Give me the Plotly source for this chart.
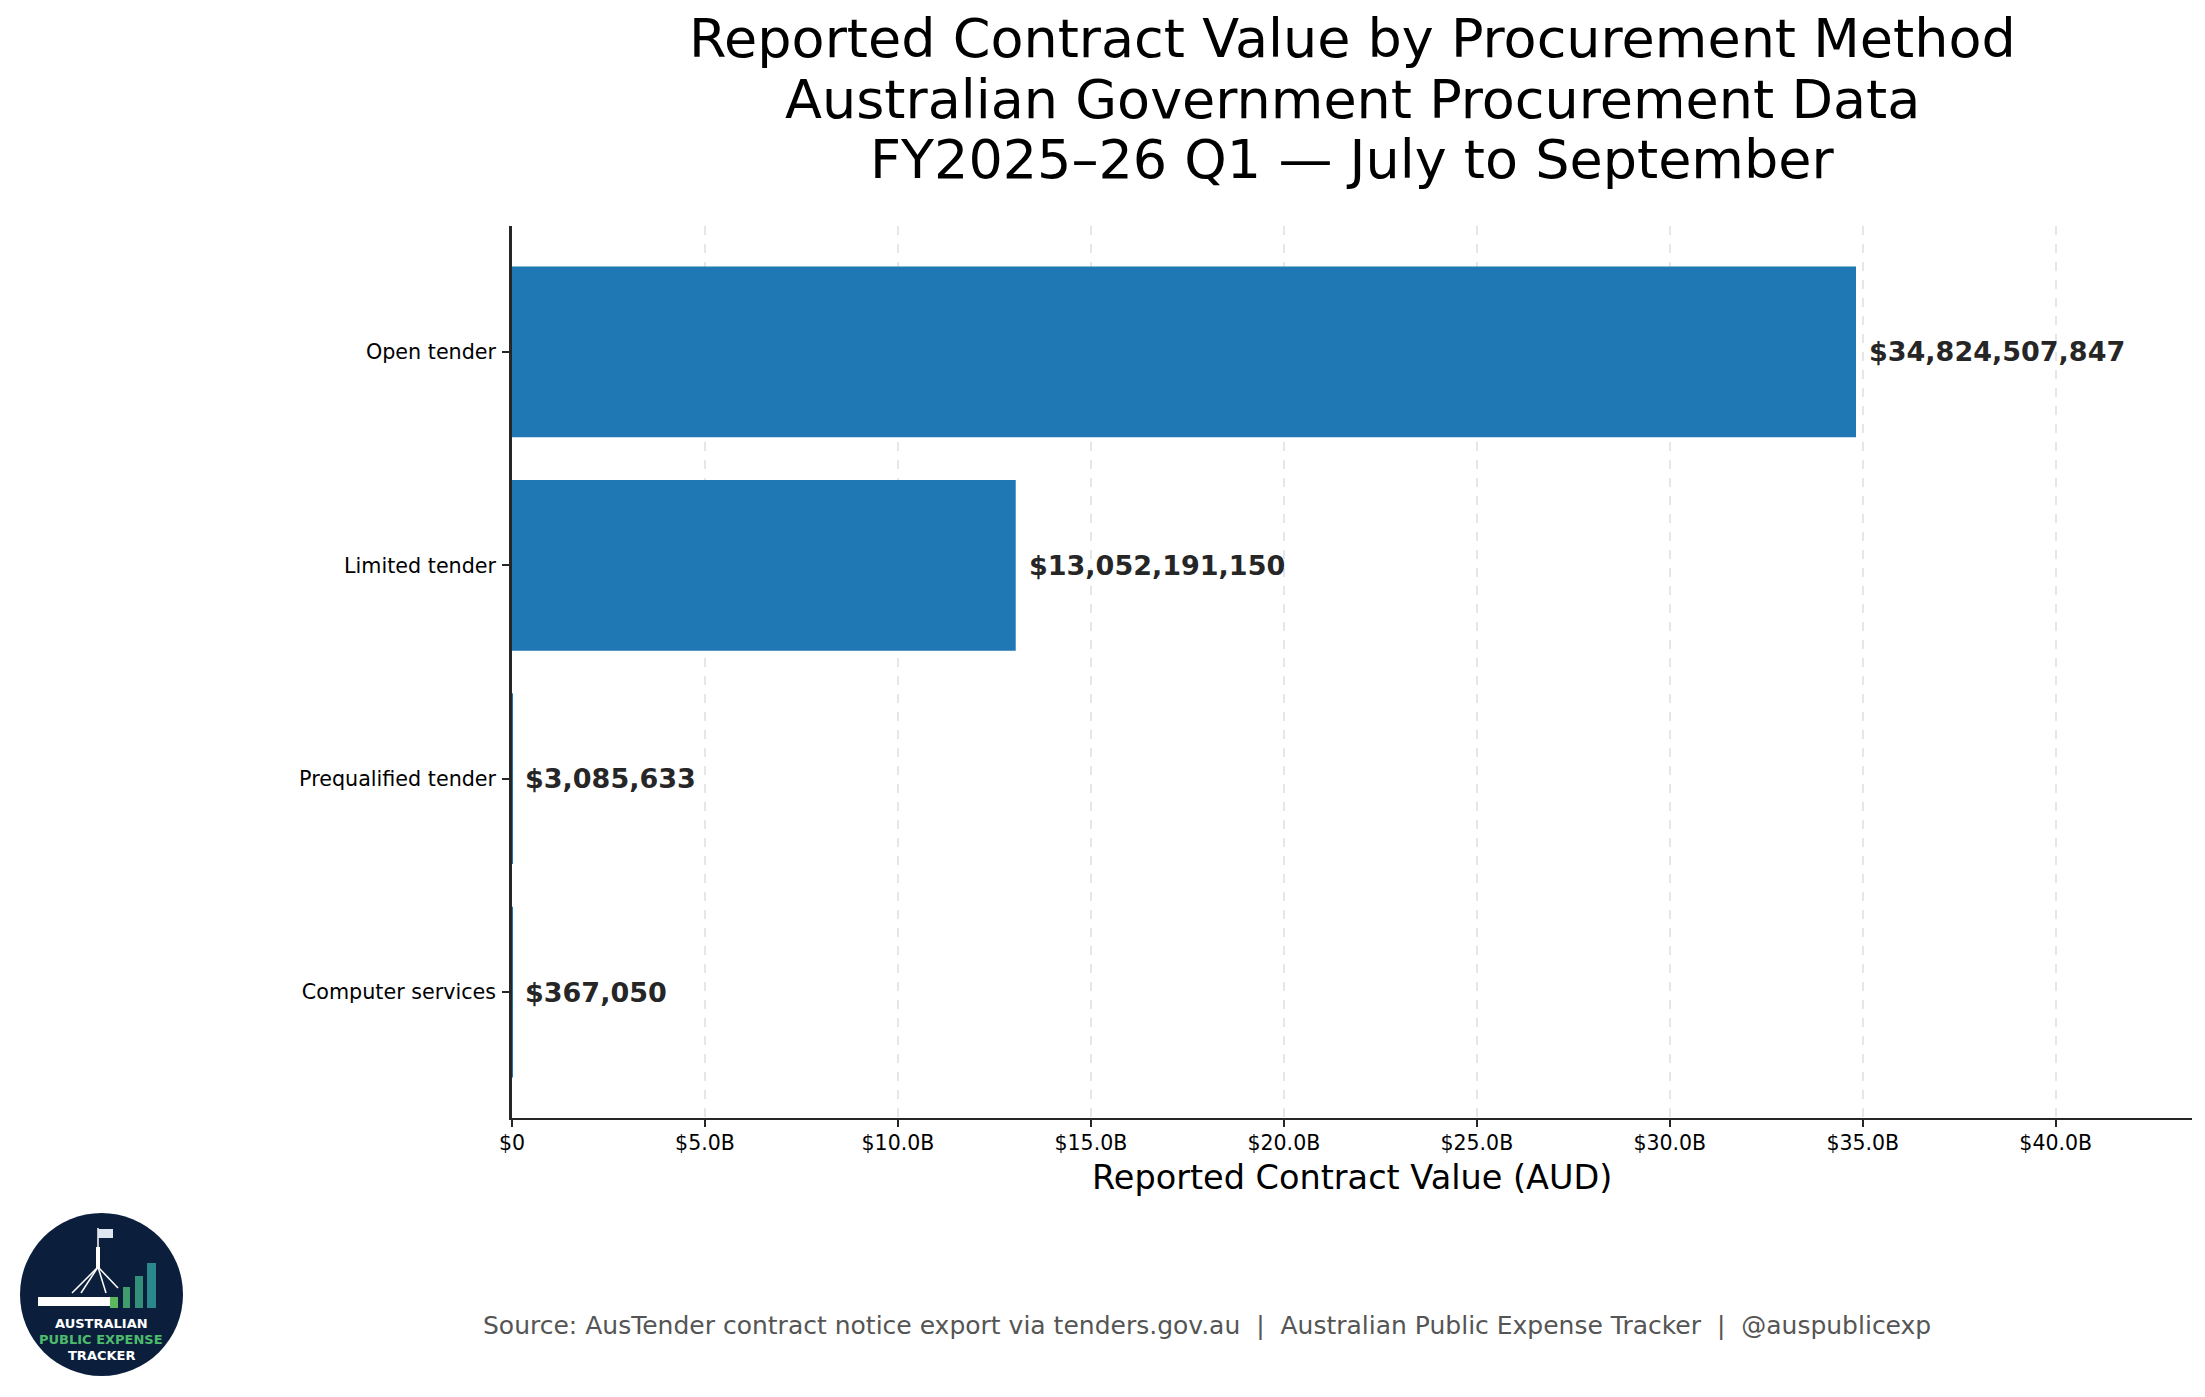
import plotly.graph_objects as go

# Données : valeur des contrats par méthode d'approvisionnement (T1 2025-26)
methods = ["Open tender", "Limited tender", "Prequalified tender", "Computer services"]
values = [34824507847, 13052191150, 3085633, 367050]

x_tick_vals = [0, 5e9, 10e9, 15e9, 20e9, 25e9, 30e9, 35e9, 40e9]
x_tick_text = ["$0", "$5.0B", "$10.0B", "$15.0B", "$20.0B", "$25.0B", "$30.0B", "$35.0B", "$40.0B"]

title_lines = [
    "Reported Contract Value by Procurement Method",
    "Australian Government Procurement Data",
    "FY2025\u201326 Q1 \u2014 July to September",
]
x_title = "Reported Contract Value (AUD)"
source_text = ("Source: AusTender contract notice export via tenders.gov.au  |  "
               "Australian Public Expense Tracker  |  @auspublicexp")

# la page ajoute une marge de 8 px : on la compense
OFF = 8
W, H = 2205 - OFF, 1397 - OFF
L, T = 512 - OFF, 226 - OFF
R = W - (2192 - OFF)
B = H - (1118 - OFF)
PW, PH = W - L - R, H - T - B
FONT = "DejaVu Sans"


def px(x):
    # pixel (image finale) -> coordonnée papier horizontale
    return (x - OFF - L) / PW


def py(y):
    # pixel (image finale, depuis le haut) -> coordonnée papier verticale
    return 1 - (y - OFF - T) / PH


fig = go.Figure()
fig.add_trace(go.Bar(
    x=values,
    y=methods,
    orientation="h",
    width=0.8,
    marker=dict(color="#1f77b4", line=dict(width=0)),
    hoverinfo="skip",
))

annotations = []

# Étiquettes de valeur à droite des barres
for m, v in zip(methods, values):
    annotations.append(dict(
        x=v, y=m, xref="x", yref="y", text=f"<b>${v:,.0f}</b>",
        showarrow=False, xanchor="left", yanchor="middle", xshift=11,
        font=dict(family=FONT, size=27, color="#262626"),
    ))

# Titre sur trois lignes, centré sur les axes
for line, yc in zip(title_lines, [39, 99, 160]):
    annotations.append(dict(
        x=0.5, y=py(yc), xref="paper", yref="paper", text=line,
        showarrow=False, xanchor="center", yanchor="middle",
        font=dict(family=FONT, size=54, color="black"),
    ))

annotations.append(dict(
    x=0.5, y=py(1177), xref="paper", yref="paper", text=x_title,
    showarrow=False, xanchor="center", yanchor="middle",
    font=dict(family=FONT, size=33.5, color="black"),
))

annotations.append(dict(
    x=px(1207), y=py(1325), xref="paper", yref="paper", text=source_text,
    showarrow=False, xanchor="center", yanchor="middle",
    font=dict(family=FONT, size=25, color="#555555"),
))

# Logo (cercle marine, barres, texte)
logo_text = [("AUSTRALIAN", "white", 1323), ("PUBLIC EXPENSE", "#4cbb6c", 1339), ("TRACKER", "white", 1355)]
for txt, col, yc in logo_text:
    annotations.append(dict(
        x=px(101), y=py(yc), xref="paper", yref="paper", text=f"<b>{txt}</b>",
        showarrow=False, xanchor="center", yanchor="middle",
        font=dict(family=FONT, size=13, color=col),
    ))

shapes = [
    dict(type="circle", xref="paper", yref="paper",
         x0=px(20), x1=px(183), y0=py(1376), y1=py(1213),
         fillcolor="#0b1f3d", line=dict(width=0), layer="below"),
    # bâtiment du parlement
    dict(type="rect", xref="paper", yref="paper",
         x0=px(38), x1=px(110), y0=py(1306), y1=py(1297),
         fillcolor="white", line=dict(width=0)),
    dict(type="rect", xref="paper", yref="paper",
         x0=px(96), x1=px(100), y0=py(1268), y1=py(1247),
         fillcolor="white", line=dict(width=0)),
    dict(type="line", xref="paper", yref="paper",
         x0=px(98), x1=px(98), y0=py(1247), y1=py(1228),
         line=dict(color="white", width=1.5)),
    dict(type="rect", xref="paper", yref="paper",
         x0=px(98), x1=px(113), y0=py(1238), y1=py(1229),
         fillcolor="#dfe6f0", line=dict(width=0)),
]
for x1, y1 in [(72, 1293), (81, 1293), (106, 1293), (118, 1288)]:
    shapes.append(dict(type="line", xref="paper", yref="paper",
                       x0=px(98), y0=py(1267), x1=px(x1), y1=py(y1),
                       line=dict(color="white", width=1.5)))
for (x0, x1, y0, col) in [(110, 118, 1297, "#5cb85c"), (123, 130, 1287, "#3f9c6c"),
                          (135, 143, 1276, "#329079"), (147, 156, 1263, "#2a878b")]:
    shapes.append(dict(type="rect", xref="paper", yref="paper",
                       x0=px(x0), x1=px(x1), y0=py(1308), y1=py(y0),
                       fillcolor=col, line=dict(width=0)))

fig.update_layout(
    width=W, height=H,
    margin=dict(l=L, r=R, t=T, b=B, pad=0),
    paper_bgcolor="white", plot_bgcolor="white",
    showlegend=False,
    bargap=0.2,
    annotations=annotations,
    shapes=shapes,
    font=dict(family=FONT, color="black"),
)

fig.update_xaxes(
    range=[0, max(values) * 1.25],
    tickvals=x_tick_vals, ticktext=x_tick_text,
    tickfont=dict(family=FONT, size=20.5, color="black"),
    showgrid=True, gridcolor="#e6e6e6", gridwidth=1.5, griddash="dash",
    zeroline=False,
    showline=True, linecolor="#262626", linewidth=2,
    ticks="outside", ticklen=7, tickwidth=2, tickcolor="#262626",
    ticklabelstandoff=-2,
)
fig.update_yaxes(
    range=[3.59, -0.59],
    tickfont=dict(family=FONT, size=20.7, color="black"),
    showgrid=False, zeroline=False,
    showline=True, linecolor="#262626", linewidth=2.5,
    ticks="outside", ticklen=7, tickwidth=2, tickcolor="#262626",
    ticklabelstandoff=2,
    layer="above traces",
)

fig.write_html("out.html")
